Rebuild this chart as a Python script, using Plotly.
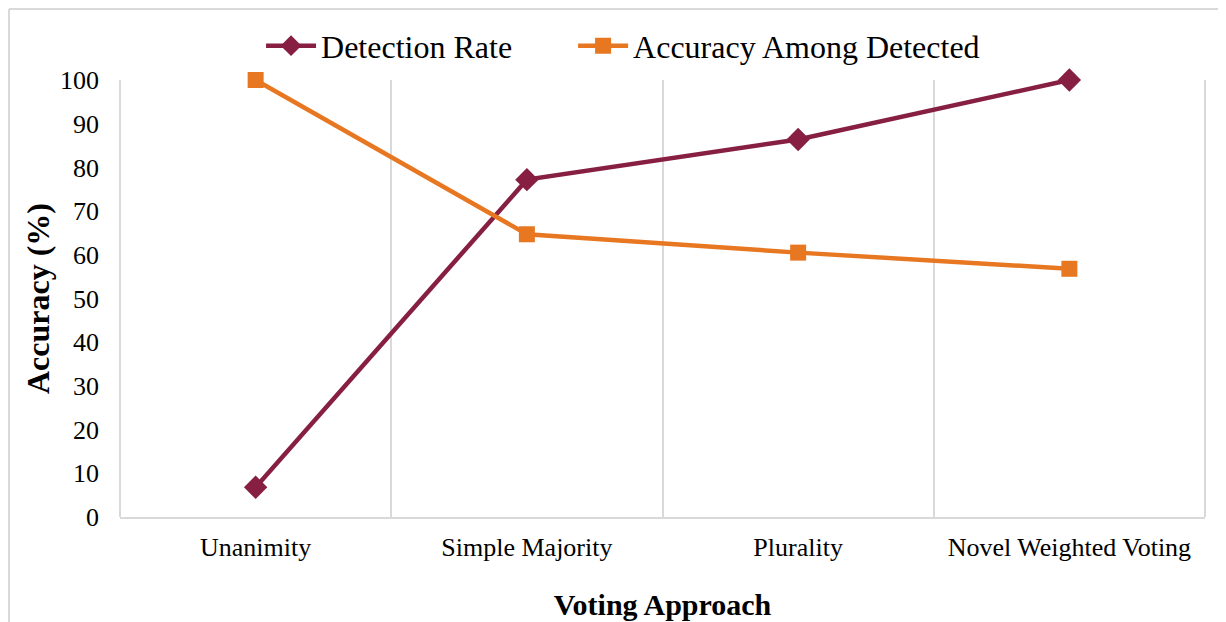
import plotly.graph_objects as go

approaches = ["Unanimity", "Simple Majority", "Plurality", "Novel Weighted Voting"]
detection_rate = [6.8, 77.2, 86.4, 100.0]
accuracy_detected = [100.0, 64.7, 60.5, 56.8]

MAROON = "#861F41"
ORANGE = "#E87722"
GRID = "#D9D9D9"
FONT = "Liberation Serif, Times New Roman, serif"

fig = go.Figure()
fig.add_trace(go.Scatter(
    x=approaches, y=detection_rate,
    name="Detection Rate" + "\u00a0" * 7,
    mode="lines+markers", cliponaxis=False,
    line=dict(color=MAROON, width=4.5),
    marker=dict(symbol="diamond", size=18, color=MAROON),
))
fig.add_trace(go.Scatter(
    x=approaches, y=accuracy_detected, name="Accuracy Among Detected",
    mode="lines+markers", cliponaxis=False,
    line=dict(color=ORANGE, width=4.5),
    marker=dict(symbol="square", size=16, color=ORANGE),
))

# plot-area edge lines (Excel draws gridlines at both category boundaries)
edges = [
    dict(type="line", xref="paper", yref="paper", layer="below",
         x0=x, x1=x, y0=0, y1=1, line=dict(color=GRID, width=2))
    for x in (0, 1)
]
# outer chart frame: only top and left edges are visible in the crop
frame = [
    dict(type="line", xref="paper", yref="paper",
         x0=-0.1023, x1=1.1, y0=1.1625, y1=1.1625,
         line=dict(color=GRID, width=2)),
    dict(type="line", xref="paper", yref="paper",
         x0=-0.1023, x1=-0.1023, y0=1.1625, y1=-0.3,
         line=dict(color=GRID, width=2)),
]

# the page body adds an 8px offset, so the figure is sized to the visible area
fig.update_layout(
    width=1218, height=614,
    margin=dict(l=112, r=21, t=72, b=105, autoexpand=False),
    paper_bgcolor="white", plot_bgcolor="white",
    font=dict(family=FONT, color="black", size=26),
    showlegend=True,
    legend=dict(
        orientation="h", x=0.130, xanchor="left", y=1.078, yanchor="middle",
        font=dict(size=32), itemwidth=50, bgcolor="rgba(0,0,0,0)",
    ),
    shapes=edges + frame,
)
fig.update_xaxes(
    type="category", tickson="boundaries", range=[-0.5, 3.5],
    showgrid=True, gridcolor=GRID, gridwidth=2,
    showline=True, linecolor=GRID, linewidth=2,
    ticks="", ticklabelstandoff=6,
    tickfont=dict(size=26),
    title=dict(text="<b>Voting Approach</b>", font=dict(size=30), standoff=33),
)
fig.update_yaxes(
    range=[0, 100], dtick=10, showgrid=False, zeroline=False,
    showline=False, ticks="", ticklabelstandoff=20,
    tickfont=dict(size=26),
    title=dict(text="<b>Accuracy (%)</b>", font=dict(size=32), standoff=0),
)

fig.write_html("out.html")
